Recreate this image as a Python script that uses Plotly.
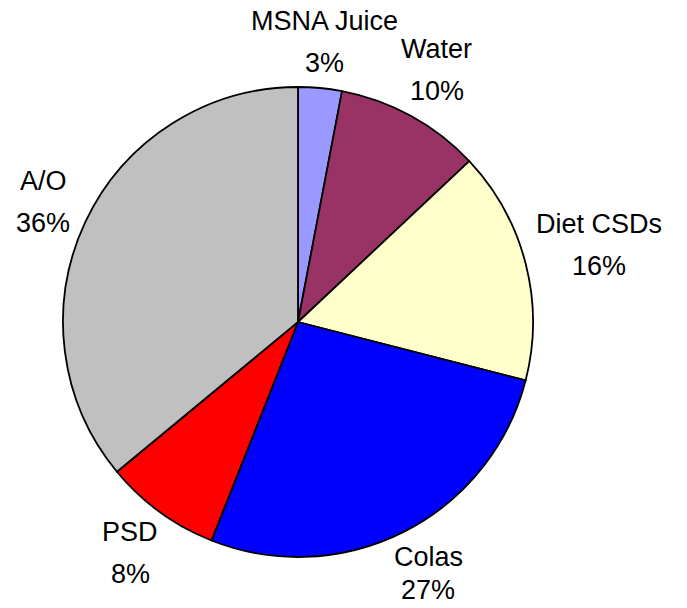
import math
import plotly.graph_objects as go

labels = ["MSNA Juice", "Water", "Diet CSDs", "Colas", "PSD", "A/O"]
values = [3, 10, 16, 27, 8, 36]
colors = ["#9999FF", "#993366", "#FFFFCC", "#0000FF", "#FF0000", "#C0C0C0"]

W, H = 687, 608
CX, CY, R = 298, 322, 235
FONT = 27
LINE_GAP = 42
LABEL_GAP = 245

# approximate Arial advance widths (em)
AW = {"M": .833, "S": .667, "N": .722, "A": .667, " ": .278, "J": .5, "u": .556,
      "i": .222, "c": .5, "e": .556, "W": .944, "a": .556, "t": .278, "r": .333,
      "D": .722, "C": .722, "s": .5, "o": .556, "l": .222, "P": .667, "/": .278,
      "O": .778, "%": .889}


def text_w(s):
    return sum(AW.get(ch, .556) for ch in s) * 26


fig = go.Figure(go.Pie(
    labels=labels, values=values, sort=False, direction="clockwise", rotation=0,
    marker=dict(colors=colors, line=dict(color="black", width=1.8)),
    textinfo="none", hoverinfo="label+percent", showlegend=False,
    domain=dict(x=[(CX - R) / W, (CX + R) / W], y=[(H - CY - R) / H, (H - CY + R) / H]),
))

total = sum(values)
cum = 0
ann = []
for lab, v in zip(labels, values):
    pct = f"{round(100 * v / total)}%"
    mid = (cum + v / 2) / total * 2 * math.pi
    cum += v
    sx, cy_ = math.sin(mid), math.cos(mid)
    hw = max(text_w(lab), text_w(pct)) / 2
    hh = 30
    dist = LABEL_GAP + hw * abs(sx) + hh * abs(cy_)
    px = CX + dist * sx
    py = CY - dist * cy_
    y_name = py - LINE_GAP / 2
    y_pct = min(py + LINE_GAP / 2, H - 18)
    for txt, yy in ((lab, y_name), (pct, y_pct)):
        ann.append(dict(x=px / W, y=1 - yy / H, xref="paper", yref="paper",
                        text=txt, showarrow=False, xanchor="center", yanchor="middle",
                        borderpad=0,
                        font=dict(family="Liberation Sans, Arial", size=FONT, color="black")))

fig.update_layout(width=W, height=H, margin=dict(l=0, r=0, t=0, b=0),
                  paper_bgcolor="white", plot_bgcolor="white", annotations=ann)
fig.write_html("out.html")
